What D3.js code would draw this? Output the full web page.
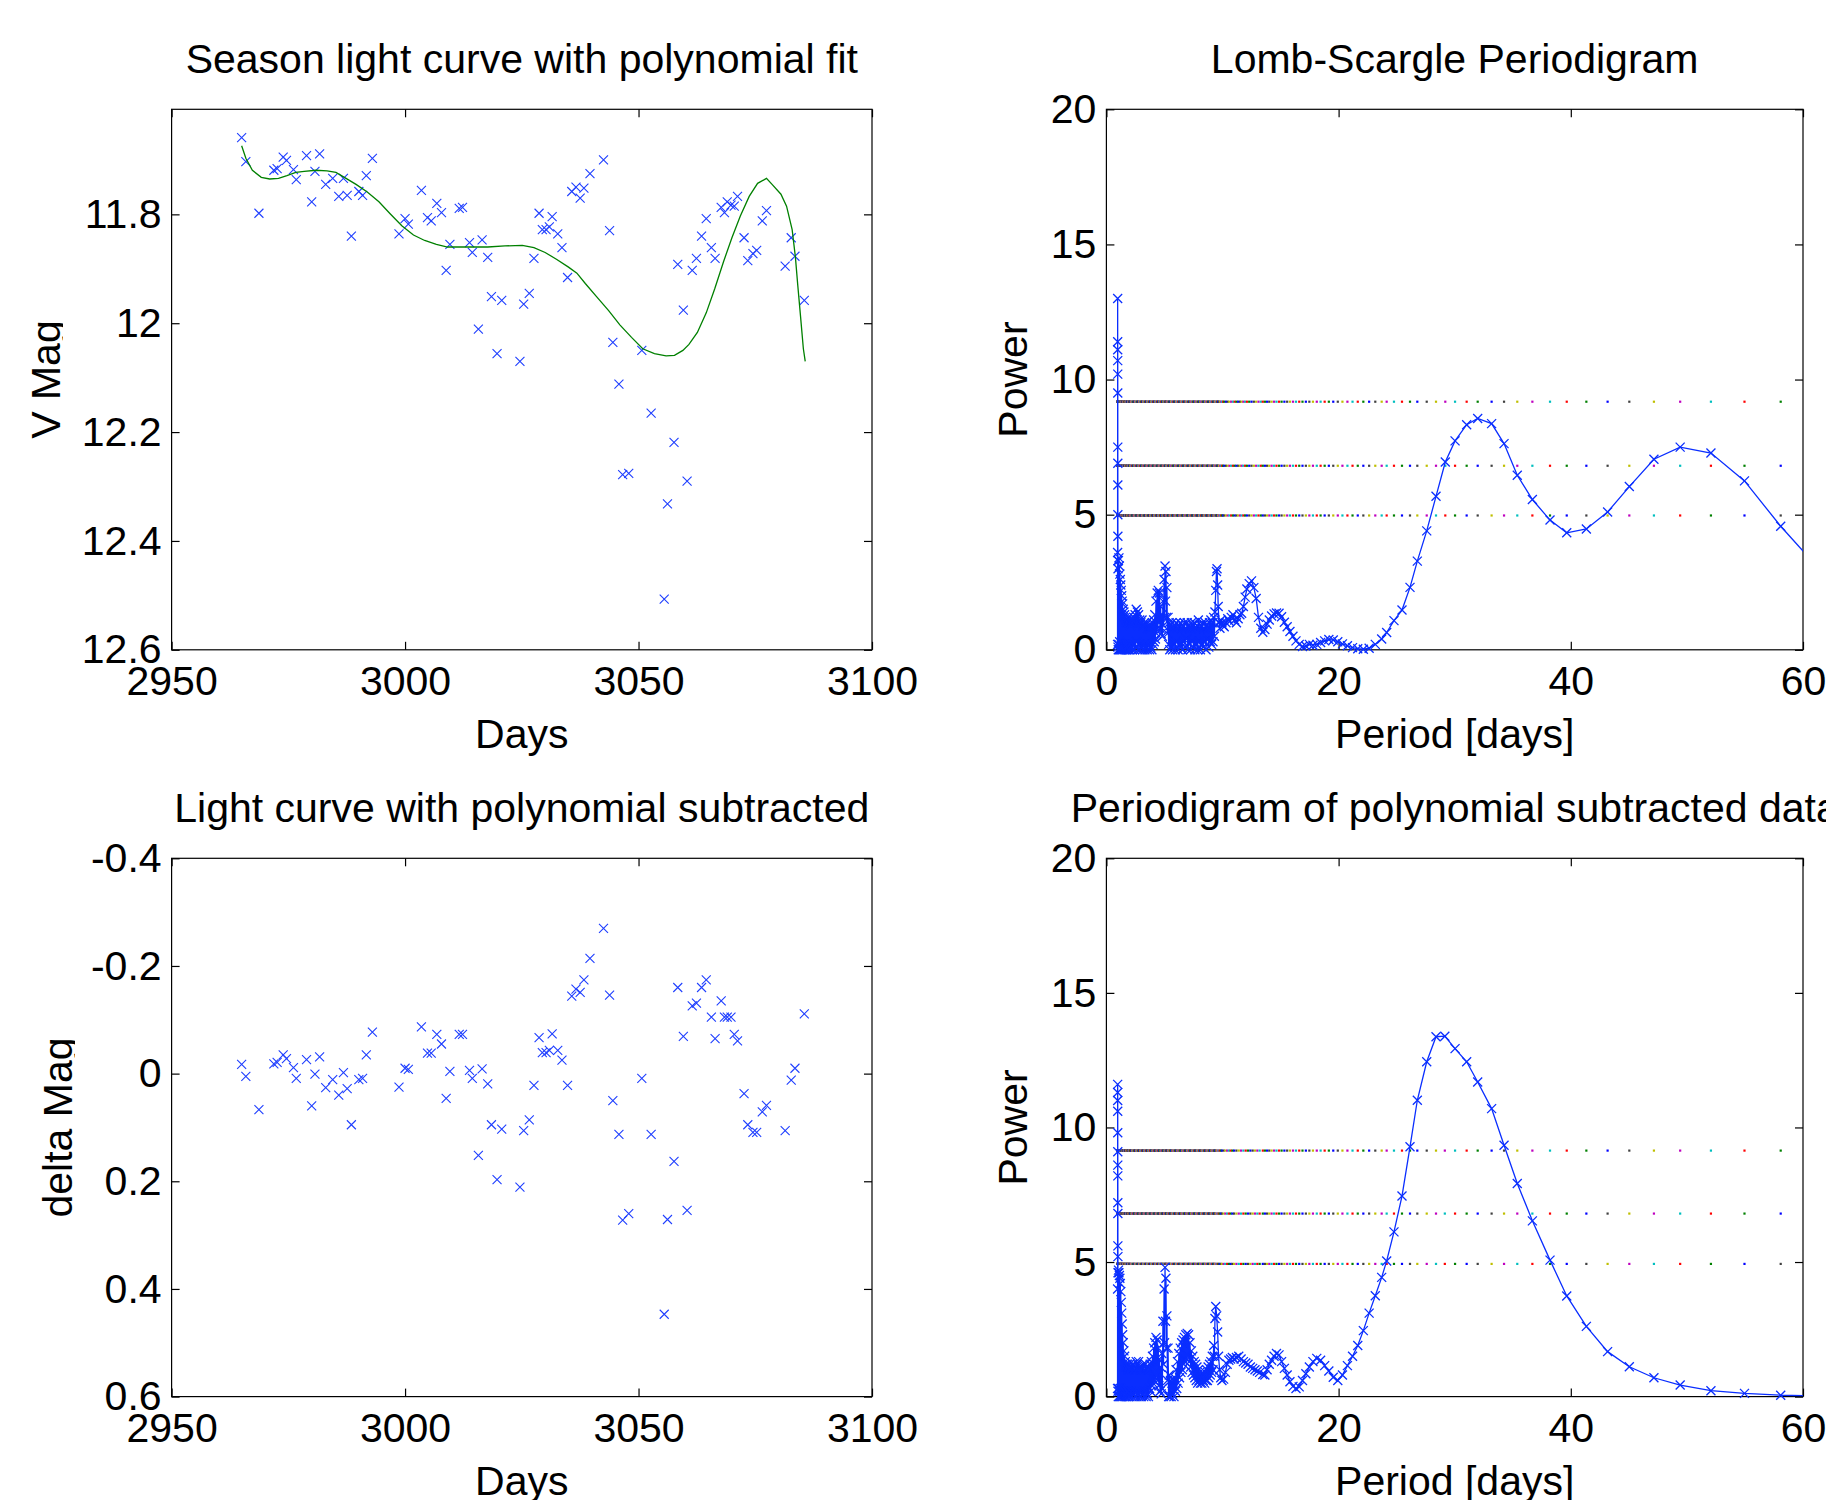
<!DOCTYPE html>
<html lang="en">
<head>
    <meta charset="UTF-8">
    <title>Season light curve and Lomb-Scargle periodigrams</title>
    <style>
        body {
            margin: 0;
            overflow: hidden;
            background: #fff;
        }
        svg {
            display: block;
        }
        text {
            font-family: "Liberation Sans", Arial, Helvetica, sans-serif;
            font-size: 41px;
            fill: #000;
        }
        .frame {
            fill: none;
            stroke: #000;
            stroke-width: 1.2px;
        }
        .axis line {
            stroke: #000;
            stroke-width: 1.2px;
        }
        .mark {
            fill: none;
            stroke: #1f3fff;
            stroke-width: 1.1px;
        }
        .pgram {
            fill: none;
            stroke: #0a2eff;
            stroke-width: 1.3px;
        }
        .poly {
            fill: none;
            stroke: #008000;
            stroke-width: 1.3px;
        }
    </style>
    <script src="https://d3js.org/d3.v7.min.js"></script>
</head>
<body>
    <svg width="1826" height="1500"></svg>
    <script>
        // ---- data ----
        var days = [
            2965.0, 2965.9, 2968.7, 2971.9, 2972.6, 2973.9, 2974.6, 2976.1, 2976.7, 2978.9,
            2980.0, 2980.7, 2981.7, 2983.0, 2984.5, 2985.8, 2986.8, 2987.6, 2988.5, 2990.1,
            2990.9, 2991.7, 2993.0, 2998.7, 3000.0, 3000.7, 3003.5, 3004.8, 3005.6, 3006.8,
            3007.8, 3008.8, 3009.6, 3011.6, 3012.3, 3013.8, 3014.4, 3015.7, 3016.5, 3017.7,
            3018.5, 3019.7, 3020.7, 3024.6, 3025.4, 3026.6, 3027.6, 3028.7, 3029.4, 3030.2,
            3030.9, 3031.5, 3032.7, 3033.6, 3034.8, 3035.7, 3036.6, 3037.5, 3038.3, 3039.6,
            3042.5, 3043.8, 3044.5, 3045.8, 3046.6, 3047.9, 3050.7, 3052.7, 3055.5, 3056.2,
            3057.6, 3058.4, 3059.6, 3060.4, 3061.5, 3062.4, 3063.5, 3064.5, 3065.6, 3066.4,
            3067.7, 3068.4, 3069.0, 3069.8, 3070.5, 3071.2, 3072.6, 3073.4, 3074.5, 3075.3,
            3076.5, 3077.4, 3081.4, 3082.7, 3083.5, 3085.5
        ];

        var vMag = [
            11.659, 11.703, 11.798, 11.719, 11.716, 11.695, 11.701, 11.718, 11.736, 11.692,
            11.777, 11.721, 11.689, 11.745, 11.734, 11.767, 11.734, 11.765, 11.840, 11.758,
            11.765, 11.729, 11.697, 11.836, 11.808, 11.818, 11.756, 11.806, 11.812, 11.780,
            11.797, 11.903, 11.855, 11.789, 11.787, 11.852, 11.870, 12.011, 11.847, 11.879,
            11.951, 12.056, 11.958, 12.070, 11.965, 11.945, 11.881, 11.798, 11.828, 11.828,
            11.823, 11.804, 11.836, 11.861, 11.916, 11.758, 11.750, 11.770, 11.752, 11.725,
            11.700, 11.830, 12.035, 12.112, 12.278, 12.276, 12.050, 12.165, 12.507, 12.332,
            12.219, 11.892, 11.976, 12.290, 11.903, 11.881, 11.840, 11.808, 11.861, 11.881,
            11.787, 11.797, 11.777, 11.783, 11.785, 11.767, 11.843, 11.885, 11.872, 11.866,
            11.812, 11.793, 11.895, 11.843, 11.877, 11.958
        ];

        var deltaMag = [
            -0.017, 0.005, 0.067, -0.018, -0.021, -0.035, -0.028, -0.011, 0.009, -0.026,
            0.060, 0.001, -0.031, 0.026, 0.011, 0.040, -0.002, 0.028, 0.095, 0.011,
            0.009, -0.035, -0.077, 0.025, -0.010, -0.008, -0.087, -0.038, -0.038, -0.073,
            -0.055, 0.046, -0.004, -0.073, -0.073, -0.006, 0.009, 0.152, -0.009, 0.019,
            0.095, 0.197, 0.103, 0.211, 0.106, 0.086, 0.022, -0.067, -0.039, -0.039,
            -0.043, -0.074, -0.043, -0.025, 0.022, -0.144, -0.157, -0.151, -0.174, -0.214,
            -0.270, -0.146, 0.050, 0.113, 0.272, 0.260, 0.009, 0.113, 0.447, 0.271,
            0.163, -0.160, -0.069, 0.254, -0.126, -0.131, -0.160, -0.174, -0.105, -0.065,
            -0.135, -0.105, -0.105, -0.105, -0.073, -0.061, 0.037, 0.095, 0.109, 0.109,
            0.071, 0.059, 0.106, 0.012, -0.010, -0.111
        ];

        // polynomial fit (green curve)
        var polyDays = [
            2965.0, 2965.9, 2967.3, 2969.2, 2971.0, 2972.9, 2974.7, 2976.6, 2978.4, 2980.9,
            2983.3, 2985.2, 2987.0, 2989.5, 2991.9, 2994.4, 2996.8, 2999.3, 3001.8, 3004.2,
            3006.7, 3009.1, 3011.6, 3014.1, 3017.7, 3021.4, 3025.1, 3027.6, 3030.0, 3032.5,
            3035.0, 3036.8, 3038.6, 3041.1, 3043.6, 3046.0, 3048.5, 3050.9, 3053.4, 3055.9,
            3057.7, 3059.5, 3060.8, 3062.6, 3064.5, 3066.3, 3068.2, 3070.0, 3071.8, 3073.7,
            3075.5, 3077.4, 3078.6, 3080.5, 3081.7, 3082.9, 3083.6, 3084.1, 3084.7, 3085.3,
            3085.7
        ];
        var polyMag = [
            11.674, 11.697, 11.719, 11.732, 11.735, 11.734, 11.729, 11.723, 11.721, 11.719,
            11.720, 11.723, 11.732, 11.745, 11.759, 11.777, 11.799, 11.821, 11.838, 11.848,
            11.855, 11.860, 11.860, 11.860, 11.860, 11.858, 11.857, 11.861, 11.870, 11.883,
            11.897, 11.908, 11.927, 11.952, 11.977, 12.003, 12.026, 12.047, 12.056, 12.060,
            12.059, 12.050, 12.039, 12.017, 11.981, 11.937, 11.887, 11.843, 11.803, 11.767,
            11.743, 11.734, 11.745, 11.763, 11.785, 11.828, 11.879, 11.930, 11.988, 12.047,
            12.070
        ];

        // Lomb-Scargle periodigram of the season data
        var lsPeriod = [
            0.96, 0.965, 0.97, 0.972, 0.974, 0.976, 0.978, 0.98, 0.982, 0.984,
            0.986, 0.988, 0.99, 0.993, 0.996, 1.00, 1.02, 1.04, 1.06, 1.08,
            1.10, 1.12, 1.14, 1.16, 1.18, 1.20, 1.22, 1.24, 1.26, 1.28,
            1.30, 1.32, 1.34, 1.36, 1.38, 1.40, 1.42, 1.45, 1.48, 1.51,
            1.54, 1.57, 1.60, 1.63, 1.66, 1.69, 1.72, 1.75, 1.78, 1.81,
            1.84, 1.87, 1.90, 1.93, 1.96, 1.99, 2.02, 2.07, 2.12, 2.17,
            2.22, 2.27, 2.32, 2.37, 2.42, 2.47, 2.52, 2.57, 2.62, 2.67,
            2.72, 2.77, 2.82, 2.87, 2.92, 2.97, 3.02, 3.07, 3.12, 3.17,
            3.22, 3.27, 3.32, 3.37, 3.42, 3.47, 3.52, 3.57, 3.62, 3.67,
            3.72, 3.77, 3.82, 3.87, 3.92, 3.97, 4.02, 4.07, 4.12, 4.17,
            4.22, 4.27, 4.32, 4.37, 4.42, 4.47, 4.52, 4.57, 4.62, 4.67,
            4.72, 4.77, 4.82, 4.87, 4.92, 4.97, 5.01, 5.05, 5.09, 5.13,
            5.17, 5.21, 5.26, 5.31, 5.36, 5.41, 5.46, 5.52, 5.58, 5.64,
            5.70, 5.76, 5.82, 5.88, 5.94, 6.00, 6.06, 6.12, 6.18, 6.24,
            6.30, 6.36, 6.42, 6.48, 6.54, 6.60, 6.66, 6.72, 6.78, 6.84,
            6.90, 6.96, 7.02, 7.08, 7.14, 7.20, 7.26, 7.32, 7.38, 7.44,
            7.50, 7.56, 7.62, 7.68, 7.74, 7.80, 7.86, 7.92, 7.98, 8.04,
            8.10, 8.16, 8.22, 8.28, 8.34, 8.40, 8.46, 8.52, 8.58, 8.64,
            8.70, 8.76, 8.82, 8.88, 8.94, 9.00, 9.06, 9.12, 9.18, 9.24,
            9.30, 9.35, 9.42, 9.48, 9.53, 9.58, 9.63, 9.70, 9.78, 9.86,
            9.95, 10.05, 10.15, 10.30, 10.45, 10.60, 10.75, 10.90, 11.05, 11.20,
            11.35, 11.50, 11.65, 11.80, 11.95, 12.10, 12.30, 12.50, 12.70, 12.90,
            13.10, 13.30, 13.47, 13.65, 13.84, 14.03, 14.23, 14.44, 14.65, 14.87,
            15.09, 15.33, 15.57, 15.81, 16.07, 16.33, 16.61, 16.89, 17.18, 17.48,
            17.79, 18.12, 18.45, 18.80, 19.16, 19.54, 19.93, 20.33, 20.76, 21.20,
            21.65, 22.13, 22.63, 23.16, 23.71, 24.14, 24.77, 25.46, 26.15, 26.78,
            27.59, 28.39, 29.19, 30.03, 31.03, 31.98, 33.18, 34.25, 35.39, 36.69,
            38.21, 39.65, 41.34, 43.17, 45.04, 47.16, 49.42, 52.07, 54.96, 58.08,
            61.60
        ];
        var lsPower = [
            0.2, 3.6, 13.0, 11.4, 11.1, 10.7, 10.2, 9.5, 7.5, 6.9,
            6.1, 5.0, 4.2, 3.3, 0.1, 3.0, 0.0, 3.3, 0.2, 3.4,
            0.0, 3.1, 0.3, 2.8, 0.0, 2.6, 0.1, 2.4, 0.0, 2.2,
            0.2, 2.0, 0.0, 1.8, 0.1, 1.7, 0.0, 1.5, 0.2, 1.4,
            0.0, 1.3, 0.1, 1.2, 0.0, 1.1, 0.2, 1.0, 0.0, 1.1,
            0.1, 1.2, 0.0, 1.0, 0.2, 1.1, 0.0, 0.9, 0.1, 1.0,
            0.0, 1.1, 0.2, 1.2, 0.0, 1.3, 0.1, 1.5, 0.3, 1.4,
            0.0, 1.3, 0.2, 1.1, 0.0, 1.0, 0.1, 1.1, 0.0, 0.9,
            0.2, 1.0, 0.0, 0.9, 0.1, 1.0, 0.0, 0.8, 0.2, 0.9,
            0.0, 0.8, 0.1, 0.9, 0.0, 1.0, 0.2, 1.1, 0.3, 1.3,
            0.4, 1.8, 0.6, 2.1, 0.8, 2.2, 1.0, 2.1, 0.8, 1.6,
            0.6, 1.3, 0.5, 1.8, 0.9, 2.6, 1.2, 3.1, 1.8, 2.9,
            1.2, 2.3, 0.6, 1.2, 0.2, 1.0, 0.0, 0.9, 0.1, 1.0,
            0.0, 0.8, 0.2, 0.9, 0.0, 1.0, 0.3, 0.8, 0.0, 0.9,
            0.2, 1.0, 0.1, 0.8, 0.0, 0.9, 0.3, 1.0, 0.1, 0.8,
            0.4, 1.0, 0.0, 0.9, 0.2, 0.8, 0.0, 1.0, 0.3, 0.9,
            0.1, 1.0, 0.0, 0.8, 0.2, 0.9, 0.0, 1.1, 0.3, 0.8,
            0.0, 0.9, 0.2, 1.0, 0.1, 0.8, 0.3, 1.0, 0.0, 0.9,
            0.4, 0.8, 0.1, 1.0, 0.3, 1.1, 0.2, 1.0, 0.3, 1.2,
            0.5, 1.4, 2.2, 2.9, 3.0, 2.4, 1.6, 1.0, 0.8, 1.1,
            1.0, 0.9, 0.85, 1.0, 1.15, 1.05, 1.2, 1.3, 1.1, 1.0,
            1.15, 1.3, 1.35, 1.6, 1.95, 2.25, 2.45, 2.55, 2.3, 1.9,
            1.2, 0.8, 0.65, 0.75, 0.95, 1.1, 1.25, 1.33, 1.36, 1.35,
            1.22, 1.02, 0.85, 0.68, 0.5, 0.33, 0.2, 0.12, 0.14, 0.2,
            0.17, 0.2, 0.27, 0.33, 0.38, 0.36, 0.3, 0.22, 0.15, 0.08,
            0.04, 0.02, 0.06, 0.2, 0.40, 0.64, 1.08, 1.47, 2.31, 3.28,
            4.40, 5.68, 6.95, 7.73, 8.33, 8.56, 8.37, 7.63, 6.46, 5.56,
            4.80, 4.33, 4.47, 5.10, 6.04, 7.05, 7.50, 7.28, 6.25, 4.57,
            2.9
        ];

        // periodigram after the polynomial was subtracted
        var subPeriod = [
            0.96, 0.965, 0.97, 0.972, 0.974, 0.976, 0.978, 0.98, 0.982, 0.984,
            0.986, 0.988, 0.99, 0.993, 0.996, 1.00, 1.02, 1.04, 1.06, 1.08,
            1.10, 1.12, 1.14, 1.16, 1.18, 1.20, 1.22, 1.24, 1.26, 1.28,
            1.30, 1.32, 1.34, 1.36, 1.38, 1.40, 1.42, 1.45, 1.48, 1.51,
            1.54, 1.57, 1.60, 1.63, 1.66, 1.69, 1.72, 1.75, 1.78, 1.81,
            1.84, 1.87, 1.90, 1.93, 1.96, 1.99, 2.02, 2.07, 2.12, 2.17,
            2.22, 2.27, 2.32, 2.37, 2.42, 2.47, 2.52, 2.57, 2.62, 2.67,
            2.72, 2.77, 2.82, 2.87, 2.92, 2.97, 3.02, 3.07, 3.12, 3.17,
            3.22, 3.27, 3.32, 3.37, 3.42, 3.47, 3.52, 3.57, 3.62, 3.67,
            3.72, 3.77, 3.82, 3.87, 3.92, 3.97, 4.02, 4.07, 4.12, 4.17,
            4.22, 4.27, 4.32, 4.37, 4.42, 4.47, 4.52, 4.57, 4.62, 4.67,
            4.72, 4.77, 4.82, 4.87, 4.92, 4.97, 5.01, 5.05, 5.09, 5.13,
            5.17, 5.21, 5.26, 5.31, 5.36, 5.41, 5.46, 5.52, 5.58, 5.64,
            5.70, 5.76, 5.82, 5.88, 5.94, 6.00, 6.06, 6.12, 6.18, 6.24,
            6.30, 6.36, 6.42, 6.48, 6.54, 6.60, 6.66, 6.72, 6.78, 6.84,
            6.90, 6.96, 7.02, 7.08, 7.14, 7.20, 7.26, 7.32, 7.38, 7.44,
            7.50, 7.56, 7.62, 7.68, 7.74, 7.80, 7.86, 7.92, 7.98, 8.04,
            8.10, 8.16, 8.22, 8.28, 8.34, 8.40, 8.46, 8.52, 8.58, 8.64,
            8.70, 8.76, 8.82, 8.88, 8.94, 9.00, 9.06, 9.12, 9.18, 9.24,
            9.30, 9.35, 9.42, 9.50, 9.58, 9.66, 9.75, 9.85, 9.95, 10.10,
            10.25, 10.40, 10.55, 10.70, 10.85, 11.00, 11.20, 11.40, 11.60, 11.80,
            12.00, 12.20, 12.40, 12.60, 12.80, 13.00, 13.20, 13.47, 13.65, 13.84,
            14.03, 14.23, 14.44, 14.65, 14.87, 15.09, 15.33, 15.57, 15.81, 16.07,
            16.33, 16.61, 16.89, 17.18, 17.48, 17.79, 18.12, 18.45, 18.80, 19.16,
            19.54, 19.93, 20.33, 20.76, 21.20, 21.65, 22.13, 22.63, 23.16, 23.71,
            24.14, 24.77, 25.46, 26.15, 26.78, 27.59, 28.39, 29.15, 30.03, 31.03,
            31.98, 33.18, 34.25, 35.39, 36.69, 38.21, 39.65, 41.34, 43.17, 45.04,
            47.16, 49.42, 52.07, 54.96, 58.08, 61.60
        ];
        var subPower = [
            0.3, 4.0, 11.6, 11.3, 11.0, 10.6, 9.8, 9.1, 8.6, 8.2,
            7.2, 6.8, 5.6, 5.2, 0.2, 4.6, 0.0, 4.7, 0.3, 4.6,
            0.0, 4.5, 0.2, 4.4, 0.0, 4.2, 0.3, 3.9, 0.0, 3.5,
            0.1, 3.1, 0.0, 2.7, 0.2, 2.3, 0.0, 2.0, 0.1, 1.7,
            0.0, 1.5, 0.2, 1.3, 0.0, 1.2, 0.1, 1.1, 0.0, 1.2,
            0.2, 1.0, 0.0, 1.1, 0.1, 1.2, 0.0, 1.0, 0.2, 1.1,
            0.0, 1.2, 0.1, 1.0, 0.0, 1.1, 0.2, 1.3, 0.0, 1.2,
            0.1, 1.3, 0.0, 1.1, 0.2, 1.0, 0.0, 1.1, 0.1, 1.2,
            0.0, 1.0, 0.2, 1.2, 0.0, 1.0, 0.1, 1.1, 0.0, 1.0,
            0.3, 1.2, 0.2, 1.3, 0.4, 1.5, 0.5, 1.8, 0.6, 2.0,
            0.7, 2.2, 0.8, 2.1, 0.6, 1.8, 0.4, 1.4, 0.2, 1.1,
            0.1, 1.6, 0.3, 2.8, 1.2, 4.0, 2.0, 4.8, 2.8, 4.4,
            1.8, 3.0, 0.6, 1.8, 0.0, 0.8, 0.0, 0.6, 0.0, 0.5,
            0.1, 0.6, 0.0, 0.7, 0.2, 1.0, 0.3, 1.3, 0.5, 1.6,
            0.7, 1.8, 0.9, 2.0, 1.0, 2.1, 1.2, 2.2, 1.3, 2.3,
            1.4, 2.35, 1.5, 2.3, 1.3, 2.0, 1.1, 1.7, 0.9, 1.5,
            0.8, 1.3, 0.7, 1.2, 0.6, 1.1, 0.5, 1.0, 0.6, 0.9,
            0.5, 0.8, 0.5, 0.9, 0.6, 0.8, 0.5, 0.9, 0.6, 1.0,
            0.6, 1.1, 0.7, 1.2, 0.8, 1.3, 0.9, 1.5, 1.0, 1.9,
            1.5, 2.9, 3.35, 3.0, 2.4, 1.5, 1.0, 0.7, 0.6, 0.65,
            0.9, 1.2, 1.35, 1.4, 1.45, 1.4, 1.45, 1.5, 1.4, 1.3,
            1.25, 1.2, 1.1, 1.05, 1.0, 0.95, 0.9, 0.82, 0.8, 1.0,
            1.2, 1.35, 1.5, 1.6, 1.55, 1.3, 1.05, 0.8, 0.55, 0.38,
            0.3, 0.36, 0.6, 0.85, 1.1, 1.3, 1.42, 1.35, 1.15, 0.95,
            0.72, 0.6, 0.8, 1.15, 1.5, 1.9, 2.45, 3.1, 3.75, 4.43,
            5.04, 6.12, 7.45, 9.28, 11.01, 12.44, 13.37, 13.39, 12.93, 12.44,
            11.69, 10.70, 9.34, 7.92, 6.53, 5.07, 3.74, 2.61, 1.67, 1.11,
            0.70, 0.43, 0.22, 0.12, 0.05, 0.03
        ];

        // significance levels (dotted lines)
        var lsSigLevels = [4.97, 6.81, 9.18];
        var subSigLevels = [4.93, 6.80, 9.14];

        // axis ticks
        var dayTicks = [2950, 3000, 3050, 3100];
        var magTicks = [11.8, 12, 12.2, 12.4, 12.6];
        var deltaTicks = [-0.4, -0.2, 0, 0.2, 0.4, 0.6];
        var periodTicks = [0, 20, 40, 60];
        var powerTicks = [0, 5, 10, 15, 20];

        // old matlab line colour order, used for the significance dots
        var colorOrder = ["#0000ff", "#008000", "#ff0000", "#00bfbf", "#bf00bf", "#bfbf00", "#404040"];

        // ---- layout ----
        var svg = d3.select("svg");
        var colL = { left: 171.6, right: 872 },
            colR = { left: 1106.4, right: 1803 },
            rowT = { top: 109.3, bottom: 649.8 },
            rowB = { top: 858.3, bottom: 1396.6 };

        var clipId = 0;

        function panel(col, row, xDomain, yDomain, xTicks, yTicks) {
            var box = { left: col.left, right: col.right, top: row.top, bottom: row.bottom };
            var x = d3.scaleLinear().domain(xDomain).range([box.left, box.right]);
            var y = d3.scaleLinear().domain(yDomain).range([box.bottom, box.top]);
            var g = svg.append("g");
            var fmt = function(d) { return String(d); };
            var blank = function() { return ""; };

            // ticks point inwards on all four sides, like a matlab box
            g.append("g").attr("class", "axis")
                .attr("transform", "translate(0," + box.bottom + ")")
                .call(d3.axisBottom(x).tickValues(xTicks).tickSize(-8).tickPadding(16).tickFormat(fmt));
            g.append("g").attr("class", "axis")
                .attr("transform", "translate(0," + box.top + ")")
                .call(d3.axisTop(x).tickValues(xTicks).tickSize(-8).tickFormat(blank));
            g.append("g").attr("class", "axis")
                .attr("transform", "translate(" + box.left + ",0)")
                .call(d3.axisLeft(y).tickValues(yTicks).tickSize(-8).tickPadding(10).tickFormat(fmt));
            g.append("g").attr("class", "axis")
                .attr("transform", "translate(" + box.right + ",0)")
                .call(d3.axisRight(y).tickValues(yTicks).tickSize(-8).tickFormat(blank));
            g.selectAll(".domain").remove();

            g.append("rect")
                .attr("class", "frame")
                .attr("x", box.left)
                .attr("y", box.top)
                .attr("width", box.right - box.left)
                .attr("height", box.bottom - box.top);

            return { g: g, x: x, y: y, box: box };
        }

        function labels(p, title, xLabel, yLabel, yLabelX) {
            var b = p.box;
            var cx = (b.left + b.right) / 2,
                cy = (b.top + b.bottom) / 2;

            p.g.append("text")
                .attr("x", cx)
                .attr("y", b.top - 36)
                .attr("text-anchor", "middle")
                .text(title);

            p.g.append("text")
                .attr("x", cx)
                .attr("y", b.bottom + 98.5)
                .attr("text-anchor", "middle")
                .text(xLabel);

            // the descender of the rotated label is cut in the original
            var id = "ylab" + (++clipId);
            svg.append("clipPath").attr("id", id)
                .append("rect")
                .attr("x", 0).attr("y", b.top)
                .attr("width", yLabelX + 3).attr("height", b.bottom - b.top);

            p.g.append("g")
                .attr("clip-path", "url(#" + id + ")")
              .append("text")
                .attr("transform", "translate(" + yLabelX + "," + cy + ") rotate(-90)")
                .attr("text-anchor", "middle")
                .text(yLabel);
        }

        function crosses(sel, px, py, r) {
            sel.append("path")
                .attr("d", function(d, i) {
                    var cx = px(d, i), cy = py(d, i);
                    return "M" + (cx - r) + "," + (cy - r) + "L" + (cx + r) + "," + (cy + r) +
                           "M" + (cx - r) + "," + (cy + r) + "L" + (cx + r) + "," + (cy - r);
                });
        }

        function periodigram(p, periods, power, levels) {
            var b = p.box;
            var id = "pg" + (++clipId);
            svg.append("clipPath").attr("id", id)
                .append("rect")
                .attr("x", b.left).attr("y", b.top - 20)
                .attr("width", b.right - b.left).attr("height", b.bottom - b.top + 40);

            // significance levels, one dot per frequency, colours cycling
            var inside = periods.filter(function(d) { return d <= 60; });
            var n = inside.length;
            levels.forEach(function(level, r) {
                p.g.append("g").selectAll("rect")
                    .data(inside)
                    .join("rect")
                    .attr("x", function(d) { return p.x(d) - 1.1; })
                    .attr("y", p.y(level) - 1.1)
                    .attr("width", 2.2)
                    .attr("height", 2.2)
                    .attr("fill", function(d, i) { return colorOrder[(n - 1 - i + r + 6) % 7]; });
            });

            var pts = periods.map(function(d, i) { return [d, power[i]]; });

            p.g.append("path")
                .datum(pts)
                .attr("class", "pgram")
                .attr("clip-path", "url(#" + id + ")")
                .attr("d", d3.line()
                    .x(function(d) { return p.x(d[0]); })
                    .y(function(d) { return p.y(d[1]); }));

            var m = p.g.append("g").attr("class", "pgram")
                .selectAll("g")
                .data(pts.filter(function(d) { return d[0] <= 60; }))
                .join("g");
            crosses(m, function(d) { return p.x(d[0]); }, function(d) { return p.y(d[1]); }, 4.5);
        }

        // ---- top left: season light curve ----
        var tl = panel(colL, rowT, [2950, 3100], [12.6, 11.607], dayTicks, magTicks);
        var lc = tl.g.append("g").attr("class", "mark")
            .selectAll("g").data(days).join("g");
        crosses(lc, function(d) { return tl.x(d); }, function(d, i) { return tl.y(vMag[i]); }, 4.5);

        tl.g.append("path")
            .datum(polyDays)
            .attr("class", "poly")
            .attr("d", d3.line()
                .x(function(d) { return tl.x(d); })
                .y(function(d, i) { return tl.y(polyMag[i]); }));
        labels(tl, "Season light curve with polynomial fit", "Days", "V Mag", 60);

        // ---- top right: periodigram ----
        var tr = panel(colR, rowT, [0, 60], [0, 20], periodTicks, powerTicks);
        periodigram(tr, lsPeriod, lsPower, lsSigLevels);
        labels(tr, "Lomb-Scargle Periodigram", "Period [days]", "Power", 1027);

        // ---- bottom left: residuals ----
        var bl = panel(colL, rowB, [2950, 3100], [0.6, -0.4], dayTicks, deltaTicks);
        var rs = bl.g.append("g").attr("class", "mark")
            .selectAll("g").data(days).join("g");
        crosses(rs, function(d) { return bl.x(d); }, function(d, i) { return bl.y(deltaMag[i]); }, 4.5);
        labels(bl, "Light curve with polynomial subtracted", "Days", "delta Mag", 72);

        // ---- bottom right: periodigram of residuals ----
        var br = panel(colR, rowB, [0, 60], [0, 20], periodTicks, powerTicks);
        periodigram(br, subPeriod, subPower, subSigLevels);
        labels(br, "Periodigram of polynomial subtracted data", "Period [days]", "Power", 1027);
    </script>
</body>
</html>
